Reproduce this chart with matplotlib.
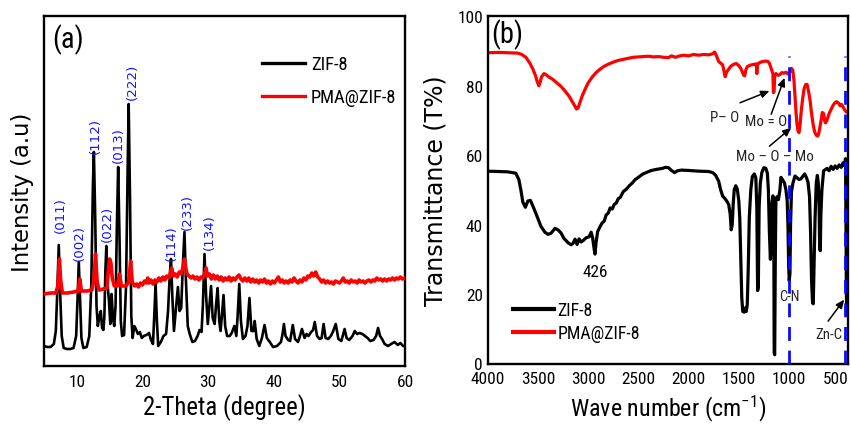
import matplotlib
matplotlib.use("Agg")
import matplotlib.pyplot as plt
from matplotlib import font_manager
from matplotlib.transforms import ScaledTranslation

# ---------------- XRD data (2-theta in degrees, intensity in a.u.) ----------------
zif8_theta = [5.0, 5.5, 6.0, 6.5, 6.8, 7.0, 7.25, 7.45, 7.7, 8.0, 8.5, 9.0, 9.5, 9.9, 10.1, 10.3,
              10.5, 10.7, 11.0, 11.5, 11.9, 12.2, 12.45, 12.6, 12.8, 13.0, 13.2, 13.45, 13.65, 13.85,
              14.05, 14.2, 14.35, 14.5, 14.7, 14.9, 15.1, 15.3, 15.5, 15.7, 15.9, 16.1, 16.3, 16.5,
              16.7, 16.9, 17.2, 17.5, 17.75, 17.9, 18.1, 18.3, 18.5, 18.75, 19.0, 19.3, 19.6, 19.9,
              20.2, 20.6, 21.0, 21.3, 21.6, 21.8, 22.0, 22.2, 22.4, 22.8, 23.2, 23.6, 23.9, 24.15,
              24.35, 24.55, 24.8, 25.1, 25.4, 25.65, 25.9, 26.15, 26.4, 26.6, 26.9, 27.2, 27.6, 28.0,
              28.4, 28.7, 29.0, 29.2, 29.45, 29.7, 29.95, 30.2, 30.45, 30.7, 31.0, 31.2, 31.45, 31.7,
              31.9, 32.1, 32.35, 32.6, 32.9, 33.3, 33.6, 34.0, 34.3, 34.5, 34.75, 35.0, 35.3, 35.7,
              36.0, 36.3, 36.6, 36.9, 37.1, 37.4, 37.8, 38.2, 38.6, 38.95, 39.4, 39.9, 40.5, 41.1,
              41.35, 41.55, 41.8, 42.2, 42.5, 42.9, 43.25, 43.7, 44.0, 44.3, 44.7, 45.0, 45.3, 45.7,
              46.0, 46.25, 46.6, 47.0, 47.3, 47.6, 47.9, 48.3, 48.7, 49.0, 49.45, 49.85, 50.3, 50.8,
              51.1, 51.5, 52.0, 52.35, 52.7, 53.1, 53.5, 53.9, 54.3, 54.7, 55.2, 55.6, 55.9, 56.2,
              56.5, 56.9, 57.4, 57.9, 58.4, 58.9, 59.3, 59.7, 60.0]
zif8_int = [20, 19, 19, 22, 35, 70, 121, 75, 30, 18, 17, 17, 18, 30, 65, 104,
            65, 28, 18, 19, 30, 80, 180, 214, 150, 60, 40, 50, 55, 38,
            36, 50, 95, 120, 80, 65, 42, 72, 48, 40, 60, 140, 199, 130,
            45, 30, 31, 80, 200, 262, 170, 50, 28, 40, 37, 32, 34, 28,
            30, 31, 33, 26, 22, 50, 82, 45, 20, 24, 30, 32, 55, 90,
            107, 70, 35, 57, 79, 55, 58, 100, 134, 90, 40, 32, 24, 25,
            30, 36, 34, 60, 112, 70, 42, 60, 80, 48, 42, 60, 78, 45,
            35, 50, 71, 40, 30, 30, 33, 40, 30, 50, 82, 45, 27, 30,
            40, 68, 35, 35, 45, 27, 20, 28, 41, 28, 24, 19, 20, 24,
            32, 42, 30, 26, 25, 41, 27, 24, 30, 37, 28, 32, 30, 34,
            36, 44, 30, 27, 28, 42, 28, 27, 30, 34, 42, 27, 25, 37,
            28, 26, 30, 35, 32, 33, 32, 30, 28, 25, 26, 30, 38, 30,
            27, 22, 20, 22, 24, 21, 23, 20, 20]

pma_theta = [5.0, 6.0, 6.8, 7.1, 7.35, 7.55, 7.8, 8.5, 9.5, 10.2, 10.45, 10.7, 11.5, 12.3, 12.6,
             12.85, 13.1, 13.4, 14.0, 14.6, 14.85, 15.0, 15.2, 15.4, 15.7, 16.2, 16.5, 16.8, 17.5,
             17.9, 18.2, 18.45, 18.8, 19.1, 19.4, 19.7, 20.0, 20.3, 20.6, 20.8, 21.0, 21.3, 21.6,
             21.9, 22.2, 22.5, 22.8, 23.1, 23.4, 23.7, 24.0, 24.2, 24.45, 24.7, 25.0, 25.3, 25.6,
             25.9, 26.2, 26.4, 26.6, 26.8, 27.1, 27.4, 27.7, 28.0, 28.3, 28.6, 28.9, 29.2, 29.5,
             29.7, 29.9, 30.2, 30.5, 30.8, 31.1, 31.4, 31.7, 32.0, 32.3, 32.6, 32.9, 33.2, 33.5,
             33.8, 34.1, 34.4, 34.7, 35.0, 35.3, 35.6, 35.9, 36.2, 36.5, 36.8, 37.1, 37.4, 37.7,
             38.0, 38.3, 38.6, 38.9, 39.2, 39.5, 39.8, 40.1, 40.4, 40.7, 41.0, 41.3, 41.6, 41.9,
             42.2, 42.5, 42.8, 43.1, 43.4, 43.7, 44.0, 44.3, 44.6, 44.9, 45.2, 45.5, 45.8, 46.1,
             46.4, 46.7, 47.0, 47.3, 47.6, 47.9, 48.2, 48.5, 48.8, 49.1, 49.4, 49.7, 50.0, 50.3,
             50.6, 50.9, 51.2, 51.5, 51.8, 52.1, 52.4, 52.7, 53.0, 53.3, 53.6, 53.9, 54.2, 54.5,
             54.8, 55.1, 55.4, 55.7, 56.0, 56.3, 56.6, 56.9, 57.2, 57.5, 57.8, 58.1, 58.4, 58.7,
             59.0, 59.3, 59.6, 60.0]
pma_int = [72, 73, 73, 80, 107, 85, 73, 73, 74, 75, 87, 75, 75, 76, 85,
           112, 84, 76, 77, 78, 100, 107, 103, 88, 80, 80, 92, 80, 80,
           84, 105, 84, 80, 82, 79, 83, 81, 85, 83, 88, 83, 86, 82,
           86, 84, 88, 85, 89, 86, 90, 88, 91, 98, 90, 92, 89, 94,
           92, 99, 107, 98, 92, 90, 88, 90, 87, 89, 86, 89, 88, 93,
           98, 90, 92, 87, 91, 87, 90, 86, 89, 85, 88, 86, 89, 85,
           88, 86, 89, 91, 87, 85, 88, 85, 88, 84, 87, 84, 86, 83,
           86, 84, 87, 83, 85, 82, 85, 83, 86, 89, 84, 86, 83, 85,
           83, 86, 84, 88, 85, 83, 86, 84, 88, 86, 90, 89, 93, 90,
           94, 89, 87, 84, 86, 83, 85, 83, 84, 82, 85, 84, 83, 85,
           88, 84, 85, 83, 86, 84, 85, 83, 86, 84, 85, 83, 85, 86,
           84, 86, 85, 88, 86, 87, 85, 87, 85, 87, 86, 88, 86, 88,
           87, 89, 87, 88]

hkl_labels = ["(011)", "(002)", "(112)", "(022)", "(013)", "(222)", "(114)", "(233)", "(134)"]

# ---------------- FTIR data (wavenumber in cm-1, transmittance in %) ----------------
ftir_zif8_wn = [4000, 3900, 3800, 3720, 3690, 3670, 3650, 3625, 3600, 3575, 3545, 3510, 3470, 3430,
                3400, 3370, 3330, 3300, 3270, 3240, 3200, 3170, 3150, 3130, 3110, 3090, 3070, 3050,
                3020, 2990, 2970, 2955, 2945, 2932, 2920, 2905, 2885, 2860, 2840, 2820, 2800, 2780,
                2760, 2740, 2720, 2700, 2680, 2650, 2620, 2590, 2560, 2530, 2500, 2460, 2420, 2380,
                2340, 2300, 2260, 2230, 2200, 2170, 2140, 2110, 2070, 2000, 1900, 1800, 1760, 1730,
                1700, 1680, 1660, 1640, 1620, 1600, 1585, 1575, 1565, 1555, 1545, 1530, 1515, 1500,
                1490, 1480, 1470, 1460, 1445, 1435, 1425, 1415, 1405, 1395, 1380, 1365, 1345, 1330,
                1320, 1312, 1305, 1297, 1285, 1270, 1250, 1230, 1215, 1205, 1195, 1185, 1177, 1170,
                1160, 1152, 1147, 1142, 1136, 1130, 1120, 1105, 1090, 1080, 1065, 1045, 1030, 1018,
                1010, 1003, 997, 990, 984, 975, 960, 940, 920, 900, 880, 860, 843, 825, 810, 795, 785,
                775, 765, 758, 750, 740, 728, 717, 708, 700, 694, 688, 682, 672, 655, 640, 620, 600,
                580, 560, 540, 520, 500, 480, 460, 445, 437, 432, 428, 424, 420]
ftir_zif8_t = [55.4, 55.3, 55.2, 54.8, 53.0, 50.0, 46.5, 45.0, 46.8, 47.0, 45.0, 42.5, 39.5, 37.8,
               37.2, 37.5, 38.9, 38.5, 37.6, 36.0, 34.8, 34.2, 34.6, 35.8, 34.3, 35.9, 35.0, 35.4,
               36.2, 36.5, 37.8, 36.2, 34.0, 31.5, 35.0, 38.0, 39.2, 40.5, 41.0, 42.8, 43.3, 44.8,
               44.5, 45.8, 46.2, 47.5, 47.8, 49.5, 50.2, 51.2, 52.0, 53.0, 53.6, 54.5, 55.0, 55.5,
               55.8, 56.0, 56.2, 56.5, 56.4, 55.6, 55.0, 55.5, 55.7, 55.6, 55.4, 55.3, 55.0, 54.2,
               52.5, 50.0, 48.2, 47.6, 46.8, 45.8, 43.0, 38.5, 40.0, 46.0, 50.0, 51.2, 50.3, 47.0,
               42.0, 30.0, 19.0, 15.0, 14.8, 16.0, 15.0, 17.0, 28.0, 42.0, 50.0, 53.8, 54.6, 53.5,
               45.0, 21.0, 22.0, 45.0, 52.0, 55.0, 56.4, 56.2, 54.8, 50.0, 38.0, 30.0, 34.0, 46.0,
               48.3, 46.0, 3.0, 2.5, 30.0, 47.0, 48.0, 47.2, 50.0, 53.6, 53.0, 52.0, 50.0, 47.0,
               40.0, 28.0, 23.8, 26.0, 40.0, 49.5, 52.0, 54.0, 53.5, 53.0, 53.2, 54.0, 54.6, 53.5,
               52.2, 48.0, 38.0, 24.0, 17.5, 17.2, 28.0, 42.0, 52.0, 54.2, 52.0, 46.0, 33.0, 32.5,
               43.0, 50.0, 55.5, 55.8, 56.2, 55.5, 56.8, 55.9, 56.9, 56.2, 57.2, 56.5, 57.8, 57.0,
               59.0, 40.0, 20.0, 14.0, 14.0]

ftir_pma_wn = [4000, 3900, 3800, 3700, 3660, 3620, 3580, 3550, 3525, 3505, 3490, 3478, 3465, 3440,
               3420, 3390, 3350, 3310, 3270, 3230, 3190, 3160, 3130, 3115, 3100, 3080, 3060, 3030,
               3000, 2960, 2920, 2880, 2840, 2800, 2750, 2700, 2650, 2600, 2550, 2500, 2450, 2400,
               2350, 2300, 2250, 2200, 2170, 2130, 2100, 2050, 2000, 1950, 1900, 1850, 1800, 1760,
               1740, 1720, 1700, 1680, 1660, 1645, 1635, 1620, 1600, 1580, 1550, 1525, 1500, 1480,
               1465, 1450, 1440, 1430, 1415, 1395, 1375, 1355, 1340, 1325, 1320, 1314, 1300, 1280,
               1260, 1230, 1210, 1195, 1180, 1170, 1160, 1155, 1148, 1142, 1130, 1110, 1090, 1070,
               1050, 1030, 1010, 990, 975, 962, 950, 940, 930, 920, 910, 900, 890, 880, 865, 850,
               835, 820, 805, 790, 775, 760, 745, 730, 715, 705, 695, 680, 668, 655, 645, 635, 620,
               600, 580, 560, 540, 525, 505, 490, 475, 460, 450, 440, 430]
ftir_pma_t = [89.5, 89.6, 89.5, 89.4, 89.0, 88.2, 86.5, 84.8, 83.0, 81.0, 80.0, 81.0, 82.5, 83.5,
              83.2, 82.5, 81.8, 80.8, 79.8, 78.5, 77.0, 75.5, 74.0, 73.3, 73.6, 75.3, 77.0, 79.0,
              80.8, 82.5, 83.8, 84.8, 85.6, 86.2, 86.8, 87.3, 87.6, 87.9, 88.2, 88.3, 88.4, 88.5,
              88.3, 88.4, 88.2, 88.1, 88.6, 88.2, 88.5, 88.8, 88.6, 89.0, 88.8, 89.0, 88.9, 89.2,
              89.7, 88.5, 87.0, 86.5, 86.0, 84.0, 82.6, 84.0, 84.8, 85.6, 86.2, 86.4, 85.8, 85.0,
              84.0, 83.0, 82.9, 84.5, 85.5, 85.8, 86.0, 86.1, 86.2, 86.3, 83.5, 86.0, 86.5, 86.8,
              87.0, 87.1, 87.0, 86.5, 85.2, 84.3, 83.5, 78.0, 78.3, 83.0, 83.5, 83.0, 83.2, 83.8,
              83.6, 83.9, 83.4, 84.0, 85.0, 84.5, 81.5, 77.0, 72.5, 69.0, 67.0, 66.5, 68.5, 72.0,
              76.0, 79.0, 80.3, 80.4, 78.5, 75.8, 72.0, 69.0, 66.8, 65.8, 65.5, 66.0, 67.5, 70.0,
              72.3, 72.0, 70.0, 69.3, 70.2, 72.0, 73.2, 74.4, 75.2, 75.4, 75.0, 74.2, 74.6, 73.8,
              73.2, 72.8, 72.5]

marker_wn = [1000, 440]

# ---------------- fonts ----------------
_installed = {f.name for f in font_manager.fontManager.ttflist}
_narrow = [n for n in ("Roboto Condensed", "Liberation Sans Narrow", "DejaVu Sans Condensed",
                       "Noto Sans Condensed", "Open Sans Condensed") if n in _installed]
if _narrow:
    HFONT, K = _narrow[0], 1.08
elif "Roboto" in _installed:
    HFONT, K = "Roboto", 1.0
else:
    HFONT, K = "DejaVu Sans", 0.9
VFONT = "DejaVu Sans"

plt.rcParams["font.family"] = HFONT
plt.rcParams["mathtext.fontset"] = "custom"
plt.rcParams["mathtext.rm"] = HFONT
plt.rcParams["mathtext.it"] = HFONT + ":italic"
plt.rcParams["mathtext.bf"] = HFONT + ":bold"

fig = plt.figure(figsize=(8.51, 4.27), dpi=100)
fig.patch.set_facecolor("white")

ax1 = fig.add_axes([44 / 851, 60 / 427, 361 / 851, 350 / 427])
ax2 = fig.add_axes([487.7 / 851, 62.5 / 427, 360 / 851, 347.2 / 427])

for ax in (ax1, ax2):
    for sp in ax.spines.values():
        sp.set_linewidth(1.7)
        sp.set_color("black")

# ---------------- panel (a): XRD ----------------
ax1.plot(zif8_theta, zif8_int, color="black", lw=1.9, label="ZIF-8", zorder=2)
ax1.plot(pma_theta, pma_int, color="#ff0000", lw=2.6, label="PMA@ZIF-8", zorder=3)
ax1.set_xlim(5, 60)
ax1.set_ylim(0, 350)
ax1.set_xticks([10, 20, 30, 40, 50, 60])
ax1.set_yticks([])
ax1.tick_params(axis="x", length=0, pad=6, labelsize=11.5 * K)
ax1.set_xlabel("2-Theta (degree)", fontsize=16.5 * K)
ax1.xaxis.set_label_coords(0.5, -0.077)
ax1.set_ylabel("Intensity (a.u)", fontsize=16.4, family=VFONT)
ax1.yaxis.set_label_coords(-0.028, 0.5)

hkl_pos = [(7.44, 134), (10.35, 106), (12.9, 213), (14.67, 125), (16.35, 204),
           (18.4, 267), (24.35, 106), (26.9, 137), (30.2, 117)]
for lab, (tx, ty) in zip(hkl_labels, hkl_pos):
    ax1.text(tx, ty, lab, rotation=90, ha="center", va="bottom", color="#1414ff",
             fontsize=9.6, family=VFONT, zorder=4)

ax1.text(8.6, 327, "(a)", ha="center", va="center", fontsize=19 * K)
leg1 = ax1.legend(loc="upper left", bbox_to_anchor=(0.604, 0.888), frameon=False,
                  fontsize=12.3 * K, handlelength=2.35, handletextpad=0.3,
                  labelspacing=0.8, borderpad=0, borderaxespad=0)
for h in leg1.get_lines():
    h.set_linewidth(2.4)

# ---------------- panel (b): FTIR ----------------
ax2.plot(ftir_zif8_wn, ftir_zif8_t, color="black", lw=2.3, label="ZIF-8", zorder=2)
ax2.plot(ftir_pma_wn, ftir_pma_t, color="#ff0000", lw=2.3, label="PMA@ZIF-8", zorder=2)
for wn in marker_wn:
    ax2.plot([wn, wn], [0, 88.5], color="#0a0aff", lw=2.0, dashes=(5, 3.5), zorder=4)
ax2.set_xlim(4000, 415)
ax2.set_ylim(0, 100)
ax2.set_xticks([4000, 3500, 3000, 2500, 2000, 1500, 1000, 500])
ax2.set_yticks([0, 20, 40, 60, 80, 100])
ax2.tick_params(axis="x", length=0, pad=5.5, labelsize=11.5 * K)
ax2.tick_params(axis="y", length=0, pad=3.4, labelsize=11.5 * K)
# keep the rightmost wavenumber label inside the figure
_last = ax2.get_xticklabels()[-1]
_last.set_transform(_last.get_transform() + ScaledTranslation(-3 / 100, 0, fig.dpi_scale_trans))
ax2.set_xlabel("Wave number (cm$^{-1}$)", fontsize=16 * K)
ax2.xaxis.set_label_coords(0.5, -0.084)
ax2.set_ylabel("Transmittance (T%)", fontsize=17, family=VFONT)
ax2.yaxis.set_label_coords(-0.112, 0.5)

ax2.text(3805, 95, "(b)", ha="center", va="center", fontsize=19 * K)
ax2.text(2927, 26.5, "426", ha="center", va="center", fontsize=11.5 * K)

arrow_kw = dict(arrowstyle="-|>,head_length=0.5,head_width=0.22", color="black", lw=1.1,
                shrinkA=0, shrinkB=0)
ax2.annotate("", xy=(1194, 78.5), xytext=(1487, 75.1), arrowprops=arrow_kw)
ax2.annotate("", xy=(1044, 82.3), xytext=(1177, 71.8), arrowprops=arrow_kw)
ax2.annotate("", xy=(977, 67.9), xytext=(1194, 62.6), arrowprops=arrow_kw)
ax2.annotate("", xy=(450, 18.4), xytext=(610, 12.2), arrowprops=arrow_kw)
ax2.text(1637, 71.1, "P\u2013 O", ha="center", va="center", fontsize=10 * K, color="#222222")
ax2.text(1230, 69.8, "Mo = O", ha="center", va="center", fontsize=10 * K, color="#222222")
ax2.text(1137, 59.7, "Mo \u2013 O \u2013 Mo", ha="center", va="center", fontsize=10 * K,
         color="#222222")
ax2.text(1000, 19.4, "C-N", ha="center", va="center", fontsize=9.5 * K, color="#222222", zorder=3)
ax2.text(607, 8.4, "Zn-C", ha="center", va="center", fontsize=9.8 * K, color="#222222")

leg2 = ax2.legend(loc="upper left", bbox_to_anchor=(0.070, 0.180), frameon=False,
                  fontsize=11.8 * K, handlelength=2.3, handletextpad=0.2,
                  labelspacing=0.3, borderpad=0, borderaxespad=0)
for h in leg2.get_lines():
    h.set_linewidth(3.0)

fig.savefig("out.png", dpi=100, facecolor="white")
